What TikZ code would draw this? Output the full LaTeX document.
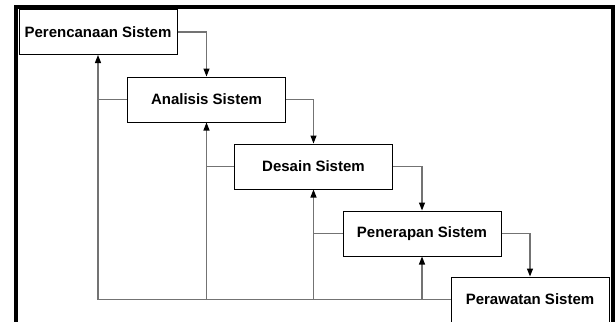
\documentclass[tikz,border=0pt]{standalone}
\usepackage{fontspec}
\setmainfont{Liberation Sans}
\usetikzlibrary{arrows.meta}
\begin{document}
\begin{tikzpicture}[x=1pt, y=-1pt,
	stage/.style={draw=black, line width=1pt, fill=white, minimum width=158pt, minimum height=45pt, inner sep=0pt, font=\fontsize{15}{18}\selectfont\bfseries},
	line/.style={draw=black!55, line width=1.3pt},
	flow/.style={line, -{Triangle[length=8pt, width=6pt, color=black]}}]
	\useasboundingbox (0,0) rectangle (615,321);
	\draw[line width=4pt] (16,325) -- (16,7) -- (613,7) -- (613,325);

	\node[stage] (P1) at (98,32) {Perencanaan Sistem};
	\node[stage] (P2) at (206.5,99.5) {Analisis Sistem};
	\node[stage] (P3) at (313.5,166.5) {Desain Sistem};
	\node[stage] (P4) at (422,233.5) {Penerapan Sistem};
	\node[stage] (P5) at (530,299.5) {Perawatan Sistem};

	% forward
	\draw[flow] (P1.east) -| (P2.north);
	\draw[flow] (P2.east) -| (P3.north);
	\draw[flow] (P3.east) -| (P4.north);
	\draw[flow] (P4.east) -| (P5.north);

	% back
	\draw[flow] (P5.west) -| (P1.south);
	\draw[flow] (P2.south |- P5.west) -- (P2.south);
	\draw[flow] (P3.south |- P5.west) -- (P3.south);
	\draw[flow] (P4.south |- P5.west) -- (P4.south);
	\draw[line] (P2.west) -- (P2.west -| P1.south);
	\draw[line] (P3.west) -- (P3.west -| P2.south);
	\draw[line] (P4.west) -- (P4.west -| P3.south);
\end{tikzpicture}
\end{document}
